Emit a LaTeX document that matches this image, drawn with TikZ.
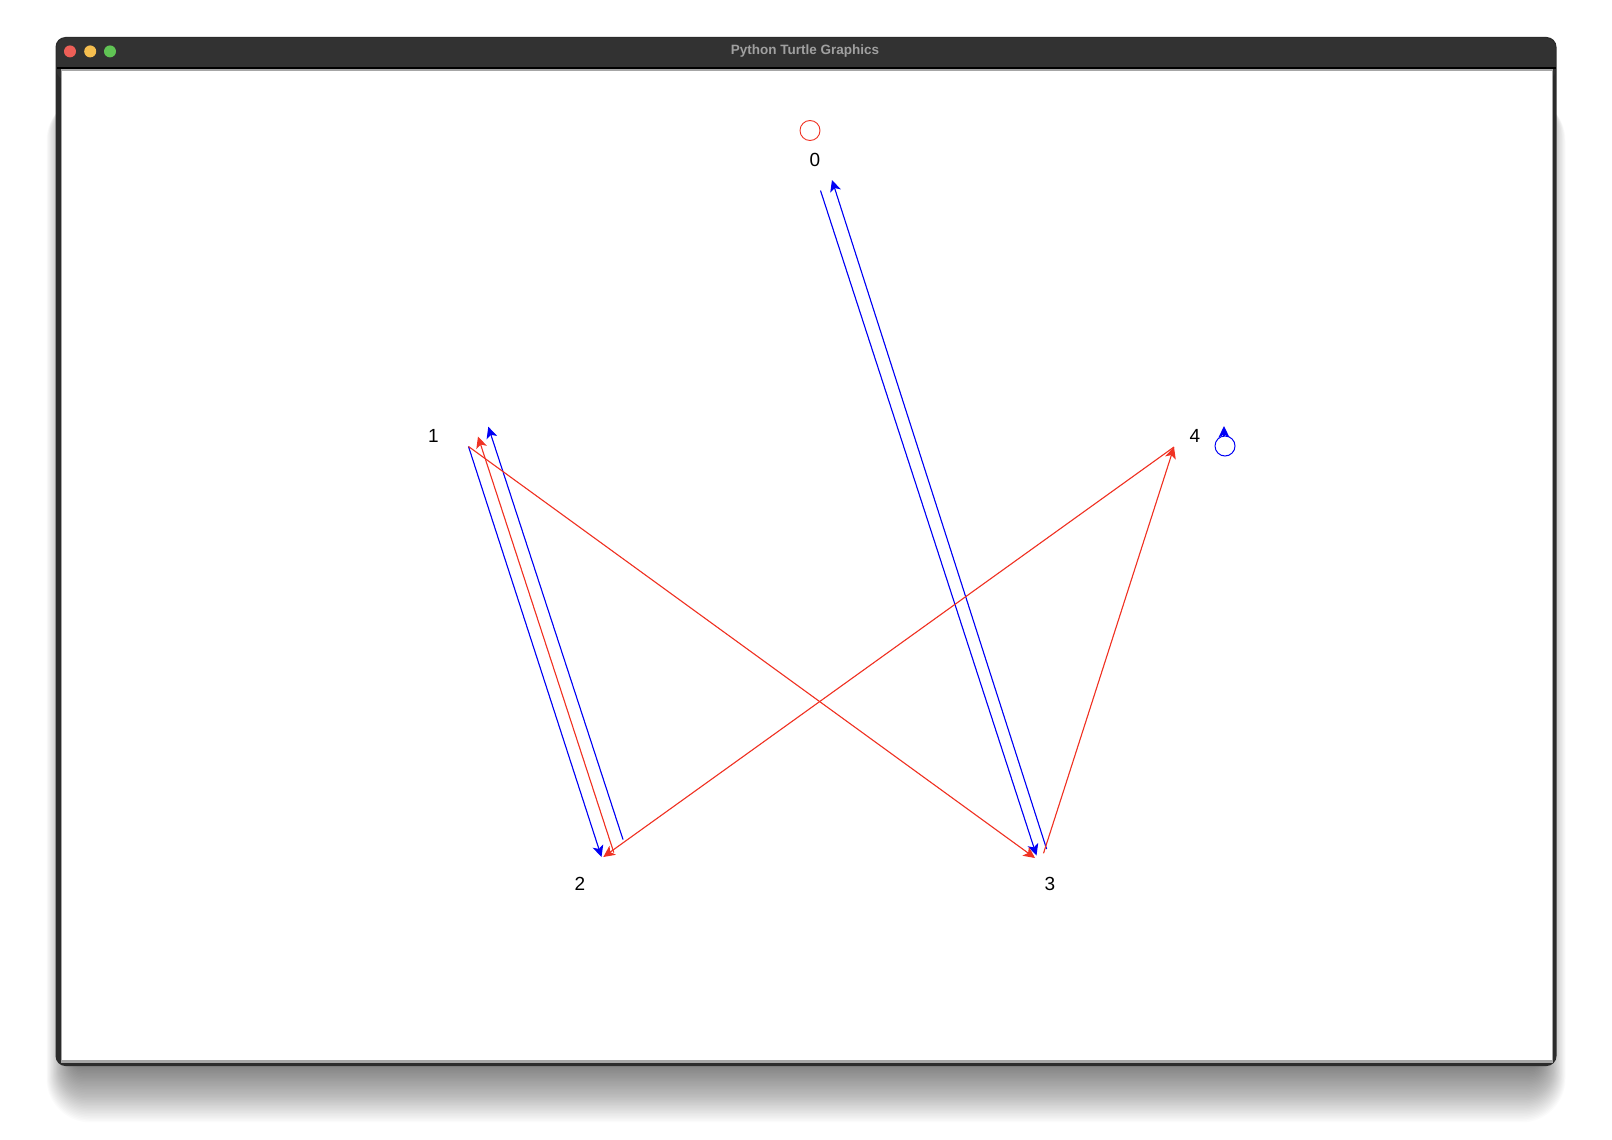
\documentclass[tikz,border=0pt]{standalone}
\usepackage{fontspec}
\setmainfont{Liberation Sans}
\usetikzlibrary{arrows.meta}
\definecolor{tblue}{RGB}{0,0,245}
\definecolor{tred}{RGB}{240,50,35}
\definecolor{titlebar}{RGB}{50,50,50}
\definecolor{titletext}{RGB}{160,160,160}
\definecolor{lred}{RGB}{237,95,87}
\definecolor{lyellow}{RGB}{245,190,79}
\definecolor{lgreen}{RGB}{96,196,84}
\tikzset{
  edge/.style={line width=1.1pt, -{Stealth[length=11.5pt,width=11pt,inset=3pt]}},
  bedge/.style={edge, draw=tblue, fill=tblue},
  redge/.style={edge, draw=tred, fill=tred},
  lbl/.style={font=\fontsize{19}{21}\selectfont, inner sep=0pt, text=black},
  light/.style={circle, minimum size=12pt, inner sep=0pt},
}
\begin{document}
\begin{tikzpicture}[x=1pt,y=-1pt]
\useasboundingbox (0,0) rectangle (1612,1140);
\fill[white] (0,0) rectangle (1612,1140);
% shadow
\foreach \i [evaluate=\i as \r using 10+\i] in {0,...,34}
  \fill[black, opacity=0.016, rounded corners=\r pt]
    (72-0.75*\i, 90+0.2*\i) rectangle (1540+0.75*\i, 1068+1.6*\i);
% window
\fill[titlebar!85!black, rounded corners=10pt] (55.5,37) rectangle (1556.5,1066);
\fill[titlebar, rounded corners=10pt] (56.5,38) rectangle (1555.5,80);
\fill[black] (56.5,67) rectangle (1555.5,69);
\fill[gray!70] (60.5,69) rectangle (1552.5,1063);
\fill[white] (61.5,71) rectangle (1551.5,1060);
\node[light, fill=lred] (lr) at (70,51.4) {};
\node[light, fill=lyellow] (ly) at (90.2,51.4) {};
\node[light, fill=lgreen] (lg) at (110,51.4) {};
\node[font=\bfseries\fontsize{13.5}{15}\selectfont, text=titletext] (title) at (805,51.4) {Python Turtle Graphics};
% labels
\node[lbl] (l0) at (815,159.5) {0};
\node[lbl] (l1) at (433.3,435.5) {1};
\node[lbl] (l2) at (580,883.5) {2};
\node[lbl] (l3) at (1050,883.5) {3};
\node[lbl] (l4) at (1195,435.5) {4};
% circles
\node[circle, draw=tred, line width=0.9pt, minimum size=20pt, inner sep=0pt] (c0) at (810,130.5) {};
\node[circle, draw=tblue, line width=1pt, minimum size=20pt, inner sep=0pt] (c4) at (1225,446) {};
\coordinate (t4a) at (1224,436);
\coordinate (t4b) at (1224,426);
\draw[bedge] (t4a) -- (t4b);
% endpoints
\coordinate (p1) at (468.5,446.5);
\coordinate (p4) at (1174,447);
\coordinate (a0) at (820.5,190.5);
\coordinate (a3) at (1036.5,855.5);
\coordinate (b3) at (1046.6,849);
\coordinate (b0) at (832,180);
\coordinate (c2) at (601.5,857);
\coordinate (d2) at (623,839.5);
\coordinate (d1) at (488.3,426.7);
\coordinate (e2) at (613.8,852.5);
\coordinate (e1) at (478,436.5);
\coordinate (f3) at (1035,858);
\coordinate (g2) at (603.3,857);
\coordinate (h3) at (1043.5,853.3);
% blue edges
\draw[bedge] (a0) -- (a3);
\draw[bedge] (b3) -- (b0);
\draw[bedge] (p1) -- (c2);
\draw[bedge] (d2) -- (d1);
% red edges
\draw[redge] (e2) -- (e1);
\draw[redge] (p1) -- (f3);
\draw[redge] (p4) -- (g2);
\draw[redge] (h3) -- (p4);
\end{tikzpicture}
\end{document}
